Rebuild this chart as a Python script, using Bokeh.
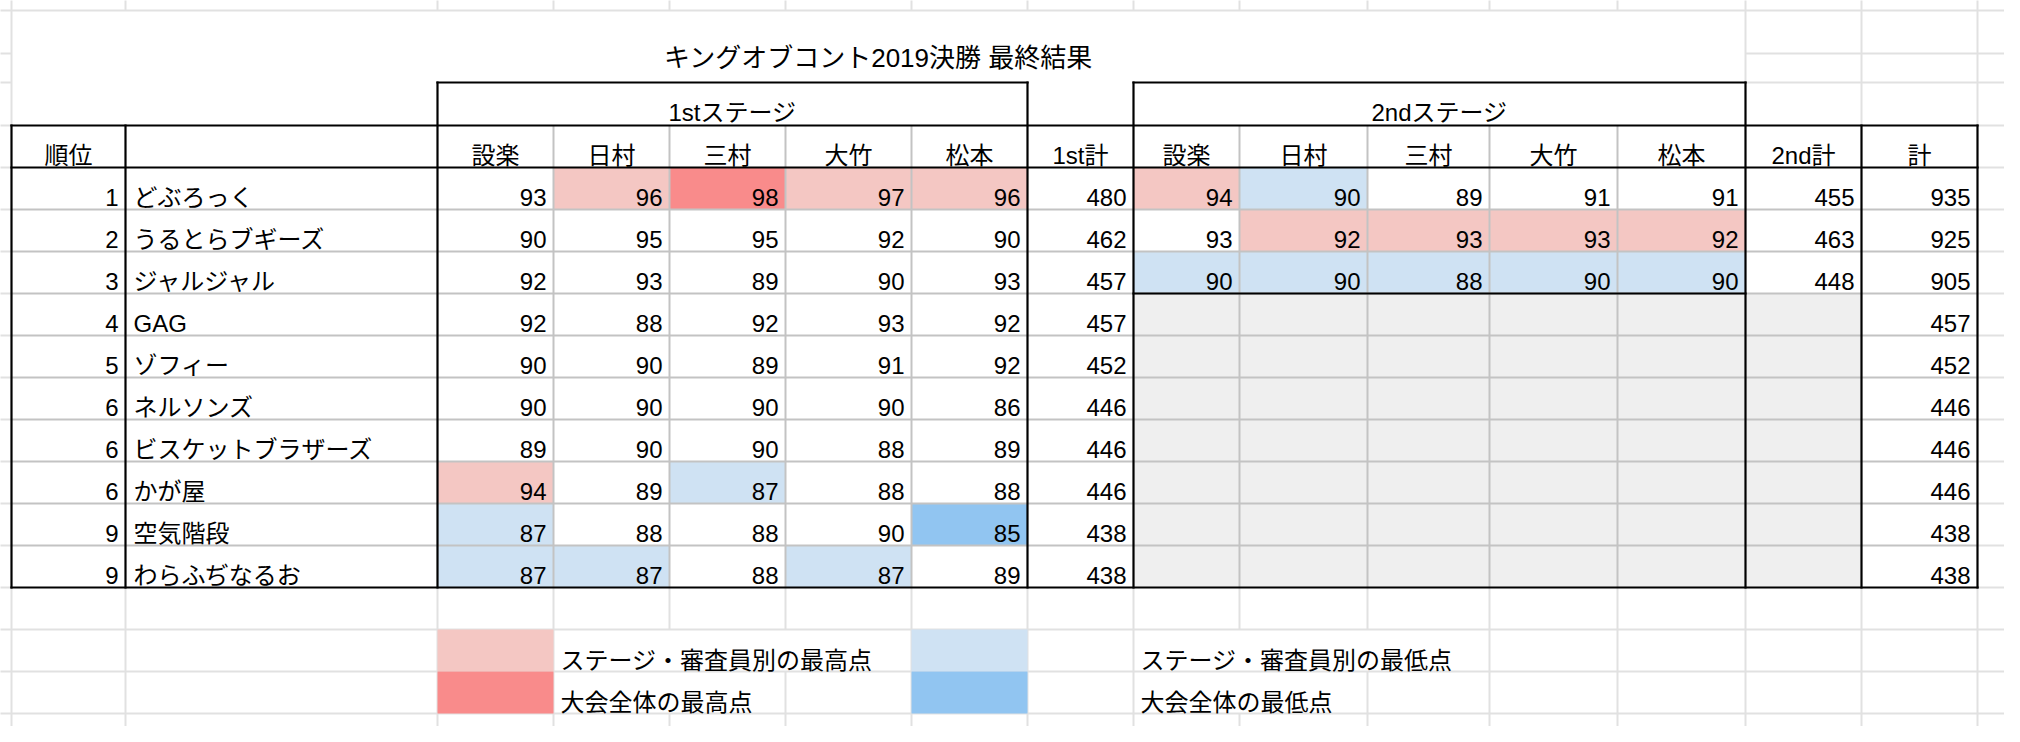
from bokeh.plotting import figure
from bokeh.models import Range1d
from bokeh.core.properties import value
from bokeh.embed import file_html
from bokeh.resources import INLINE

# ---------------- data ----------------
title = "キングオブコント2019決勝 最終結果"
stage_labels = ["1stステージ", "2ndステージ"]
judges = ["設楽", "日村", "三村", "大竹", "松本"]
ranks = [1, 2, 3, 4, 5, 6, 6, 6, 9, 9]
names = ["どぶろっく", "うるとらブギーズ", "ジャルジャル", "GAG", "ゾフィー",
         "ネルソンズ", "ビスケットブラザーズ", "かが屋", "空気階段", "わらふぢなるお"]
stage1 = [
    [93, 96, 98, 97, 96],
    [90, 95, 95, 92, 90],
    [92, 93, 89, 90, 93],
    [92, 88, 92, 93, 92],
    [90, 90, 89, 91, 92],
    [90, 90, 90, 90, 86],
    [89, 90, 90, 88, 89],
    [94, 89, 87, 88, 88],
    [87, 88, 88, 90, 85],
    [87, 87, 88, 87, 89],
]
stage2 = [
    [94, 90, 89, 91, 91],
    [93, 92, 93, 93, 92],
    [90, 90, 88, 90, 90],
]
total1 = [480, 462, 457, 457, 452, 446, 446, 446, 438, 438]
total2 = [455, 463, 448]
grand = [935, 925, 905, 457, 452, 446, 446, 446, 438, 438]
header_total = ["1st計", "2nd計", "計"]
legend_labels = ["ステージ・審査員別の最高点", "大会全体の最高点",
                 "ステージ・審査員別の最低点", "大会全体の最低点"]

# ---------------- layout / style ----------------
FONT = "Liberation Sans, Noto Sans CJK JP"
FS = "24px"
PINK, RED, LBLUE, BLUE, GRAYF = "#f4c7c3", "#f98b8b", "#cfe2f3", "#91c5f1", "#efefef"
GRID, INNER, BLACK = "#e1e1e1", "#c3c3c3", "#000000"

COL = [19, 133, 445, 561, 677, 793, 919, 1035, 1141, 1247, 1375, 1497, 1625, 1753, 1869, 1985]
TITLE_TOP, TITLE_MID, STAGE_TOP, HEAD_TOP, DATA_TOP, RH = 18, 61, 90, 133, 175, 42
TABLE_BOT = DATA_TOP + RH * len(names)
LEG_ROWS = [TABLE_BOT + RH, TABLE_BOT + 2 * RH, TABLE_BOT + 3 * RH]
W, H = 2020, 742

p = figure(width=W - 16, height=H - 16, x_range=Range1d(8, W - 8), y_range=Range1d(H - 8, 8),
           output_backend="svg", toolbar_location=None, min_border=0,
           x_axis_type=None, y_axis_type=None)
p.grid.visible = False
p.outline_line_color = None
p.background_fill_color = "white"
p.border_fill_color = "white"


def row_top(i):
    return DATA_TOP + RH * i


# ---------------- fills ----------------
fl, fr, ft, fb, fc = [], [], [], [], []
all_scores = [v for r in stage1 + stage2 for v in r]
gmax, gmin = max(all_scores), min(all_scores)


def add_fill(l, r, t, b, c):
    fl.append(l); fr.append(r); ft.append(t); fb.append(b); fc.append(c)


for stage, off in ((stage1, 2), (stage2, 8)):
    for j in range(5):
        col = [row[j] for row in stage]
        cmax, cmin = max(col), min(col)
        for i, v in enumerate(col):
            c = None
            if v == gmax:
                c = RED
            elif v == gmin:
                c = BLUE
            elif v == cmax:
                c = PINK
            elif v == cmin:
                c = LBLUE
            if c:
                add_fill(COL[off + j], COL[off + j + 1], row_top(i), row_top(i) + RH, c)
# grey block for finalists not in 2nd stage
add_fill(COL[8], COL[14], row_top(len(stage2)), TABLE_BOT, GRAYF)
# legend swatches
add_fill(COL[2], COL[3], LEG_ROWS[0], LEG_ROWS[1], PINK)
add_fill(COL[2], COL[3], LEG_ROWS[1], LEG_ROWS[2], RED)
add_fill(COL[6], COL[7], LEG_ROWS[0], LEG_ROWS[1], LBLUE)
add_fill(COL[6], COL[7], LEG_ROWS[1], LEG_ROWS[2], BLUE)

# ---------------- light sheet gridlines ----------------
gx0, gy0, gx1, gy1 = [], [], [], []


def g(x0, y0, x1, y1):
    gx0.append(x0); gy0.append(y0); gx1.append(x1); gy1.append(y1)


g(0, TITLE_TOP, W, TITLE_TOP)
for y in (TITLE_MID, STAGE_TOP):
    g(0, y, COL[0], y)
    g(COL[13], y, W, y)
for i in range(len(names) + 2):
    y = HEAD_TOP + RH * i
    g(0, y, COL[0], y)
    g(COL[-1], y, W, y)
for y in LEG_ROWS:
    g(0, y, W, y)
for x in COL:
    g(x, 0, x, TITLE_TOP)
g(COL[0], TITLE_TOP, COL[0], HEAD_TOP)
g(COL[13], TITLE_TOP, COL[13], STAGE_TOP)
g(COL[14], TITLE_TOP, COL[14], HEAD_TOP)
g(COL[15], TITLE_TOP, COL[15], HEAD_TOP)

# legend text positions (overflowing text hides gridlines it covers)
leg_pos = [(COL[3] + 7, 0), (COL[3] + 7, 1), (COL[8] + 7, 0), (COL[8] + 7, 1)]
for x in COL:
    g(x, TABLE_BOT, x, LEG_ROWS[0])
    g(x, LEG_ROWS[2], x, H)
    for r in range(2):
        hidden = False
        for (lx, lr), lab in zip(leg_pos, legend_labels):
            if lr == r and lx < x < lx + 24 * len(lab):
                hidden = True
        if not hidden:
            g(x, LEG_ROWS[r], x, LEG_ROWS[r + 1])

p.segment(x0=gx0, y0=gy0, x1=gx1, y1=gy1, line_color=GRID, line_width=2)

p.quad(left=fl, right=fr, top=ft, bottom=fb, fill_color=fc, line_color=None)

# ---------------- inner table lines ----------------
ix0, iy0, ix1, iy1 = [], [], [], []
for x in COL[3:7] + COL[9:13]:
    ix0.append(x); iy0.append(HEAD_TOP); ix1.append(x); iy1.append(TABLE_BOT)
for i in range(1, len(names)):
    y = row_top(i)
    ix0.append(COL[0]); iy0.append(y); ix1.append(COL[-1]); iy1.append(y)
p.segment(x0=ix0, y0=iy0, x1=ix1, y1=iy1, line_color=INNER, line_width=2)

# ---------------- black borders ----------------
bx0, by0, bx1, by1 = [], [], [], []


def b(x0, y0, x1, y1):
    bx0.append(x0); by0.append(y0); bx1.append(x1); by1.append(y1)


for y in (HEAD_TOP, DATA_TOP, TABLE_BOT):
    b(COL[0], y, COL[-1], y)
b(COL[2], STAGE_TOP, COL[7], STAGE_TOP)
b(COL[8], STAGE_TOP, COL[13], STAGE_TOP)
b(COL[8], row_top(len(stage2)), COL[13], row_top(len(stage2)))
for x in (COL[0], COL[1], COL[14], COL[15]):
    b(x, HEAD_TOP, x, TABLE_BOT)
for x in (COL[2], COL[7], COL[8], COL[13]):
    b(x, STAGE_TOP, x, TABLE_BOT)
p.segment(x0=bx0, y0=by0, x1=bx1, y1=by1, line_color=BLACK, line_width=2.2, line_cap="square")

# ---------------- texts ----------------
tf = value(FONT)


def txt(xs, ys, ts, align, size=FS):
    p.text(x=xs, y=ys, text=ts, text_align=align, text_baseline="alphabetic",
           text_font=tf, text_font_size=size, text_color="#000000")


# title
txt([(COL[0] + COL[13]) / 2], [TITLE_TOP + 47], [title], "center", "26px")
# stage labels
txt([(COL[2] + COL[7]) / 2, (COL[8] + COL[13]) / 2], [STAGE_TOP + 30] * 2, stage_labels, "center")
# header row
hx, ht = [(COL[0] + COL[1]) / 2], ["順位"]
for off in (2, 8):
    for j, jn in enumerate(judges):
        hx.append((COL[off + j] + COL[off + j + 1]) / 2); ht.append(jn)
for ci, lab in zip((7, 13, 14), header_total):
    hx.append((COL[ci] + COL[ci + 1]) / 2); ht.append(lab)
txt(hx, [HEAD_TOP + 30] * len(hx), ht, "center")

# data rows
rx, ry, rt = [], [], []
for i in range(len(names)):
    yb = row_top(i) + 30
    rx.append(COL[1] - 7); ry.append(yb); rt.append(str(ranks[i]))
    for j in range(5):
        rx.append(COL[3 + j] - 7); ry.append(yb); rt.append(str(stage1[i][j]))
    rx.append(COL[8] - 7); ry.append(yb); rt.append(str(total1[i]))
    if i < len(stage2):
        for j in range(5):
            rx.append(COL[9 + j] - 7); ry.append(yb); rt.append(str(stage2[i][j]))
        rx.append(COL[14] - 7); ry.append(yb); rt.append(str(total2[i]))
    rx.append(COL[15] - 7); ry.append(yb); rt.append(str(grand[i]))
txt(rx, ry, rt, "right")
txt([COL[1] + 8] * len(names), [row_top(i) + 30 for i in range(len(names))], names, "left")

# legend labels
txt([lx for lx, _ in leg_pos], [LEG_ROWS[r] + 31 for _, r in leg_pos], legend_labels, "left")

open("out.html", "w").write(file_html(p, INLINE))
